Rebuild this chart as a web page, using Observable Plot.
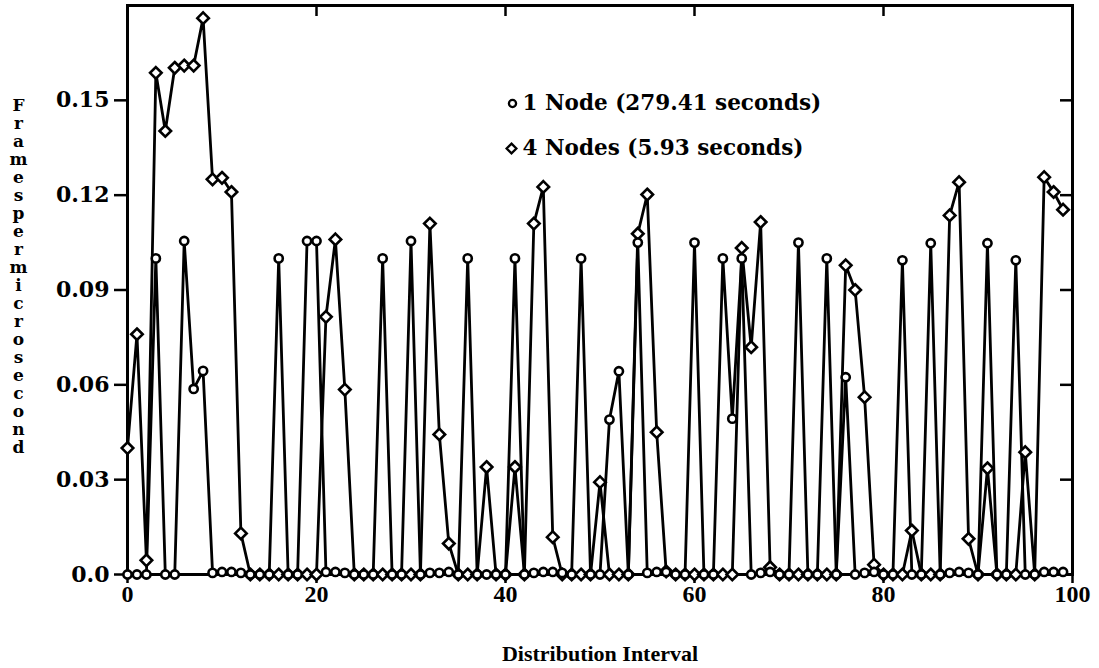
<!DOCTYPE html>
<html>
<head>
<meta charset="utf-8">
<script src="https://cdn.jsdelivr.net/npm/d3@7"></script>
<script src="https://cdn.jsdelivr.net/npm/@observablehq/plot@0.6"></script>
<style>
  html, body { margin: 0; padding: 0; background: #fff; }
  #chart svg { display: block; }
</style>
</head>
<body>
<div id="chart"></div>
<script>
// ---- data ----
const seriesNames = ["1 Node (279.41 seconds)", "4 Nodes (5.93 seconds)"];

const oneNode = [
  0, 0, 0, 0.100, 0, 0, 0.1055, 0.0587, 0.0644, 0.0005,
  0.0008, 0.0008, 0.0005, 0, 0, 0, 0.100, 0, 0, 0.1055,
  0.1055, 0.0008, 0.0008, 0.0005, 0, 0, 0, 0.100, 0, 0,
  0.1055, 0, 0.0005, 0.0005, 0.0008, 0, 0.100, 0, 0, 0,
  0, 0.100, 0, 0.0005, 0.0008, 0.0008, 0.0005, 0, 0.100, 0,
  0, 0.049, 0.0643, 0, 0.105, 0.0005, 0.0008, 0.0008, 0, 0,
  0.105, 0, 0, 0.100, 0.0493, 0.100, 0, 0.0005, 0.0008, 0,
  0, 0.105, 0, 0, 0.100, 0, 0.0624, 0, 0.0005, 0.0008,
  0, 0, 0.0994, 0, 0, 0.1048, 0, 0.0005, 0.0008, 0.0005,
  0, 0.1048, 0, 0, 0.0994, 0, 0, 0.0008, 0.0008, 0.0008
];

const fourNodes = [
  0.040, 0.076, 0.0045, 0.1587, 0.1403, 0.1603, 0.161, 0.161, 0.176, 0.125,
  0.1255, 0.121, 0.013, 0, 0, 0, 0, 0, 0, 0,
  0, 0.0815, 0.106, 0.0585, 0, 0, 0, 0, 0, 0,
  0, 0, 0.111, 0.0443, 0.0098, 0, 0, 0, 0.034, 0,
  0, 0.034, 0, 0.111, 0.1226, 0.0118, 0, 0, 0, 0,
  0.0292, 0, 0, 0, 0.1078, 0.1202, 0.045, 0.001, 0, 0,
  0, 0, 0, 0, 0, 0.1033, 0.0719, 0.1115, 0.0023, 0,
  0, 0, 0, 0, 0, 0, 0.0978, 0.090, 0.0561, 0.0031,
  0, 0, 0, 0.0139, 0, 0, 0, 0.1136, 0.1241, 0.0113,
  0, 0.0336, 0, 0, 0, 0.0387, 0, 0.1257, 0.121, 0.1154
];

const xTicks = [0, 20, 40, 60, 80, 100];
const xTopTicks = [20, 40, 60, 80];
const yTicks = [0, 0.03, 0.06, 0.09, 0.12, 0.15];
const yTickLabels = ["0.0", "0.03", "0.06", "0.09", "0.12", "0.15"];
const yRightTicks = [0.03, 0.06, 0.09, 0.12, 0.15];
const xTitle = "Distribution Interval";
const yTitle = "Frames per microsecond";

// ---- build tables ----
const oneRows = oneNode.map((v, i) => ({x: i, y: v}));
const fourRows = fourNodes.map((v, i) => ({x: i, y: v}));

const serifWide = "'DejaVu Serif', 'Liberation Serif', serif";
const serifNarrow = "'Liberation Serif', 'DejaVu Serif', serif";

const chart = Plot.plot({
  width: 1099,
  height: 668,
  marginLeft: 127,
  marginRight: 27,
  marginTop: 5,
  marginBottom: 94,
  style: {background: "white", color: "black"},
  x: {domain: [0, 100]},
  y: {domain: [0, 0.18]},
  marks: [
    // bottom axis
    Plot.axisX(xTicks, {
      anchor: "bottom", tickSize: 9, tickPadding: 1, strokeWidth: 2.5,
      fontSize: 24, fontWeight: "bold", fontFamily: serifNarrow, label: null
    }),
    // top axis ticks (inward)
    Plot.axisX(xTopTicks, {
      anchor: "top", tickSize: 10, dy: 10, strokeWidth: 2.5,
      tickFormat: () => "", label: null
    }),
    // left axis
    Plot.axisY(yTicks, {
      anchor: "left", tickSize: 13, tickPadding: 5, strokeWidth: 2.5,
      tickFormat: (d) => yTickLabels[yTicks.indexOf(d)],
      fontSize: 22, fontWeight: "bold", fontFamily: serifWide, label: null
    }),
    // right axis ticks (inward)
    Plot.axisY(yRightTicks, {
      anchor: "right", tickSize: 13, dx: -13, strokeWidth: 2.5,
      tickFormat: () => "", label: null
    }),
    Plot.frame({stroke: "black", strokeWidth: 3}),
    // series lines
    Plot.line(oneRows, {x: "x", y: "y", stroke: "black", strokeWidth: 2.8}),
    Plot.line(fourRows, {x: "x", y: "y", stroke: "black", strokeWidth: 2.8}),
    // markers
    Plot.dot(fourRows, {x: "x", y: "y", symbol: "diamond2", r: 5.2, fill: "white", stroke: "black", strokeWidth: 2.6}),
    Plot.dot(oneRows, {x: "x", y: "y", symbol: "circle", r: 4.1, fill: "white", stroke: "black", strokeWidth: 2.6}),
    // legend
    Plot.dot([seriesNames[0]], {frameAnchor: "top-left", dx: 385, dy: 98, symbol: "circle", r: 3.6, fill: "white", stroke: "black", strokeWidth: 2.3}),
    Plot.dot([seriesNames[1]], {frameAnchor: "top-left", dx: 384, dy: 143, symbol: "diamond2", r: 4.4, fill: "white", stroke: "black", strokeWidth: 2.3}),
    Plot.text([seriesNames[0]], {frameAnchor: "top-left", dx: 395, dy: 98, text: d => d, textAnchor: "start", lineAnchor: "middle",
      fontSize: 21.5, fontWeight: "bold", fontFamily: serifWide, fill: "black"}),
    Plot.text([seriesNames[1]], {frameAnchor: "top-left", dx: 395, dy: 143, text: d => d, textAnchor: "start", lineAnchor: "middle",
      fontSize: 21.5, fontWeight: "bold", fontFamily: serifWide, fill: "black"}),
    // axis titles
    Plot.text([xTitle], {frameAnchor: "bottom", dy: 79, text: d => d, lineAnchor: "middle",
      fontSize: 22, fontWeight: "bold", fontFamily: serifNarrow, fill: "black"}),
    Plot.text([yTitle], {frameAnchor: "left", dx: -109, dy: -14, text: d => d.replace(/ /g, "").split("").join("\n"),
      textAnchor: "middle", lineAnchor: "middle", lineHeight: 1.06,
      fontSize: 17, fontWeight: "bold", fontFamily: serifWide, fill: "black"})
  ]
});

document.getElementById("chart").append(chart);
</script>
</body>
</html>
